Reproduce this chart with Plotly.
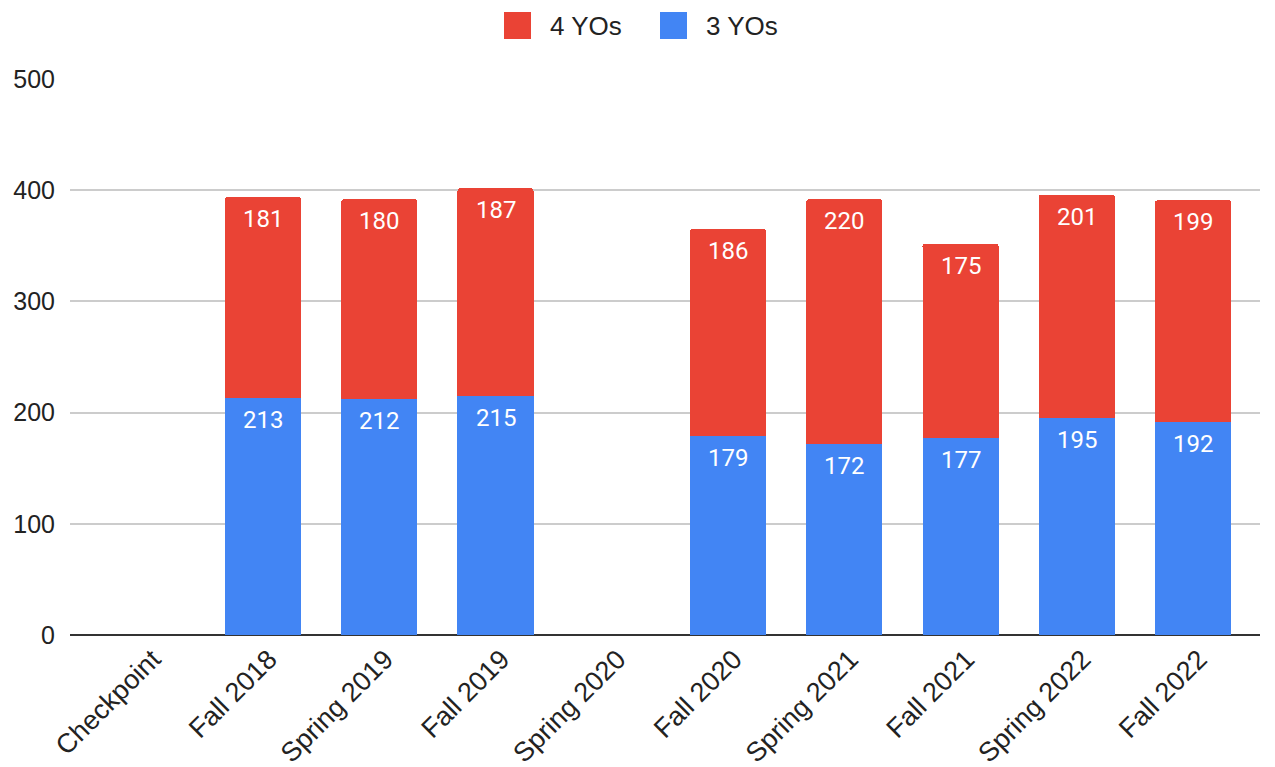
import plotly.graph_objects as go

categories = ["Checkpoint", "Fall 2018", "Spring 2019", "Fall 2019", "Spring 2020",
              "Fall 2020", "Spring 2021", "Fall 2021", "Spring 2022", "Fall 2022"]
three_yos = [None, 213, 212, 215, None, 179, 172, 177, 195, 192]
four_yos = [None, 181, 180, 187, None, 186, 220, 175, 201, 199]
y_ticks = [0, 100, 200, 300, 400, 500]
series_names = ["4 YOs", "3 YOs"]
series_colors = ["#EA4335", "#4285F4"]

label_font = dict(family="Roboto, Arial, sans-serif", size=24, color="white")
axis_font = dict(family="Arial, Liberation Sans, sans-serif", size=25, color="#222222")
xtick_font = dict(family="Arial, Liberation Sans, sans-serif", size=27, color="#222222")

fig = go.Figure()
fig.add_trace(go.Bar(
    x=categories, y=three_yos, name=series_names[1], marker_color=series_colors[1],
    marker_line_width=0, showlegend=False,
))
fig.add_trace(go.Bar(
    x=categories, y=four_yos, name=series_names[0], marker_color=series_colors[0],
    marker_line_width=0, showlegend=False,
))

# value labels near the top of each segment
for cat, v3, v4 in zip(categories, three_yos, four_yos):
    if v3 is not None:
        fig.add_annotation(x=cat, y=v3, yshift=-22, text=str(v3), showarrow=False,
                           xanchor="center", yanchor="middle", font=label_font)
    if v4 is not None:
        fig.add_annotation(x=cat, y=v3 + v4, yshift=-22, text=str(v4), showarrow=False,
                           xanchor="center", yanchor="middle", font=label_font)

# page body has an 8px margin: figure is offset by 8px
OFF = 8
FW, FH = 1275 - OFF, 767 - OFF
L, R, T, B = 70, 1260, 79, 635  # screen coords of plot area
W, H = R - L, B - T
def px(x):
    return (x - L) / W
def py(y):
    return (B - y) / H

legend_items = [(504, 548), (660, 704)]
for (sx, tx), name, color in zip(legend_items, series_names, series_colors):
    fig.add_shape(type="rect", xref="paper", yref="paper",
                  x0=px(sx), x1=px(sx + 27), y0=py(39), y1=py(12),
                  fillcolor=color, line=dict(width=0), layer="above")
    fig.add_annotation(xref="paper", yref="paper", x=px(tx), y=py(25.5),
                       xanchor="left", yanchor="middle", text=name, showarrow=False,
                       font=dict(family="Arial, Liberation Sans, sans-serif", size=26,
                                 color="#222222"))

fig.update_layout(
    barmode="stack",
    bargap=0.346,
    barcornerradius=3,
    width=FW, height=FH,
    margin=dict(l=L - OFF, r=FW - (R - OFF), t=T - OFF, b=FH - (B - OFF), autoexpand=False),
    plot_bgcolor="white", paper_bgcolor="white",
    font=axis_font,
    showlegend=False,
    xaxis=dict(tickangle=-45, showgrid=False, showline=False, ticks="",
               range=[-0.66, 9.576], automargin=False, tickfont=xtick_font,
               ticklabelshift=6, ticklabelstandoff=2),
    yaxis=dict(range=[0, 500], tickvals=y_ticks, showgrid=True, gridcolor="#cccccc",
               gridwidth=1.5, zeroline=True, zerolinecolor="#333333", zerolinewidth=2,
               ticks="", ticklabelstandoff=14, automargin=False, tickfont=axis_font),
)

fig.write_html("out.html")
